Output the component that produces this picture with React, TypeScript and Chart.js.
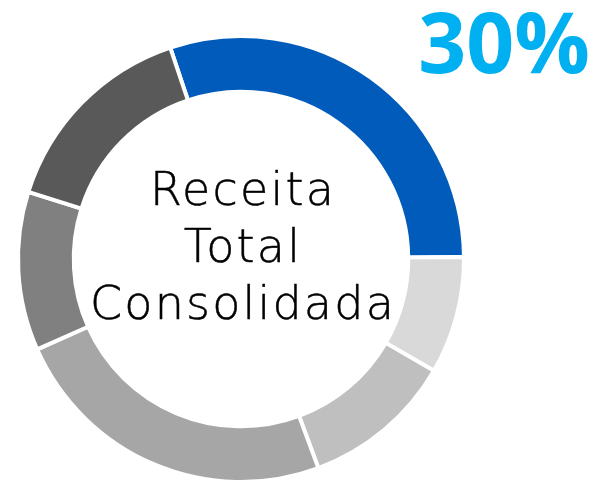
import React, { useEffect, useRef } from "react";
import { Chart, registerables } from "chart.js";

Chart.register(...registerables);

const segmentLabels = ["Destaque", "Seg. 2", "Seg. 3", "Seg. 4", "Seg. 5", "Seg. 6"];
const segmentValues = [30, 8.5, 11, 24, 11.5, 15];
const segmentColors = ["#005BBB", "#D9D9D9", "#BFBFBF", "#A6A6A6", "#808080", "#595959"];
const centerLines = ["Receita", "Total", "Consolidada"];
const highlightText = "30%";

export default function App() {
  const canvasRef = useRef<HTMLCanvasElement | null>(null);

  useEffect(() => {
    if (!canvasRef.current) return;
    const chart = new Chart(canvasRef.current, {
      type: "doughnut",
      data: {
        labels: segmentLabels,
        datasets: [
          {
            data: segmentValues,
            backgroundColor: segmentColors,
            borderColor: "#FFFFFF",
            borderWidth: 4,
            hoverOffset: 0,
          },
        ],
      },
      options: {
        responsive: false,
        animation: false,
        rotation: -18.5,
        cutout: "75%",
        layout: { padding: { left: 16, right: 133, top: 34, bottom: 0 } },
        plugins: {
          legend: { display: false },
          tooltip: { enabled: false },
          title: { display: false },
        },
      },
    });
    return () => chart.destroy();
  }, []);

  return (
    <div style={{ position: "fixed", left: 0, top: 0, width: 599, height: 480, overflow: "hidden", background: "#fff" }}>
      <canvas ref={canvasRef} width={599} height={484} style={{ position: "absolute", left: 0, top: 0, width: 599, height: 484 }} />
      <div
        style={{
          position: "absolute",
          left: 2,
          top: 161,
          width: 482,
          textAlign: "center",
          fontFamily: "'DejaVu Sans', sans-serif",
          fontWeight: 200,
          fontSize: 46,
          letterSpacing: "2.2px",
          lineHeight: "57px",
          color: "#000",
          WebkitTextStroke: "0.5px #000",
        }}
      >
        {centerLines.map((l) => (
          <div key={l}>{l}</div>
        ))}
      </div>
      <div
        style={{
          position: "absolute",
          right: 9,
          top: -1,
          fontFamily: "'Open Sans', sans-serif",
          fontWeight: 700,
          fontSize: 84,
          lineHeight: "84px",
          color: "#00B0F0",
          whiteSpace: "nowrap",
        }}
      >
        {highlightText}
      </div>
    </div>
  );
}
